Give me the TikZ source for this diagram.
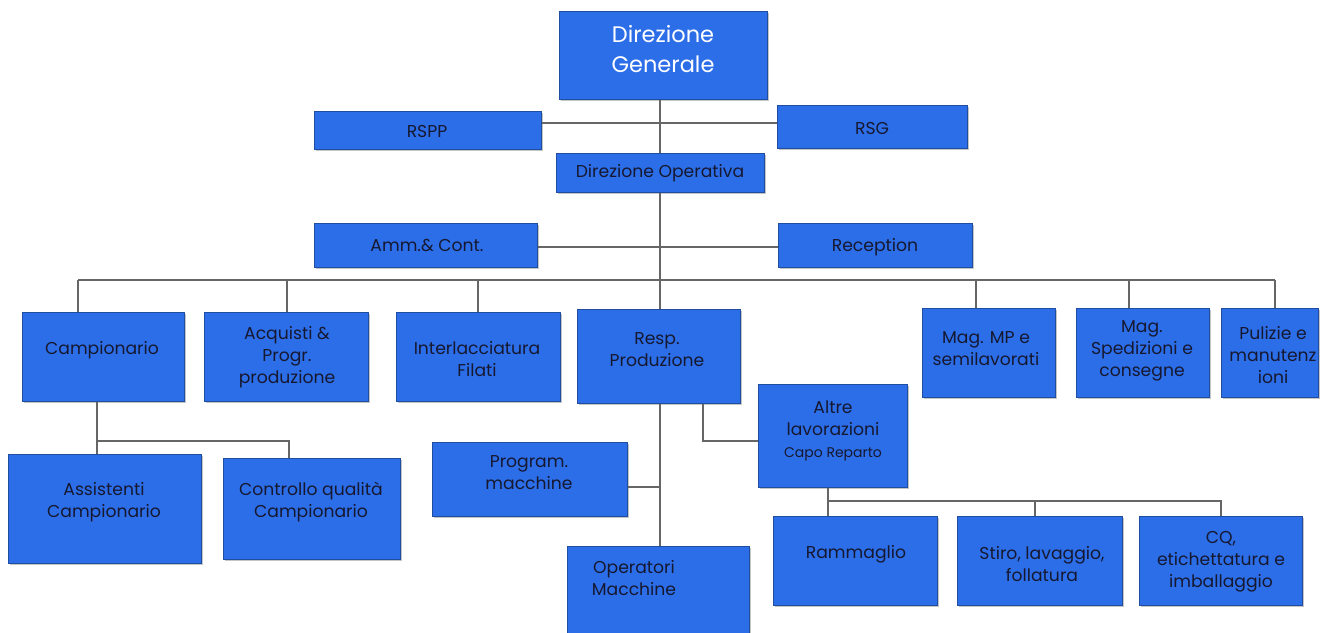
\documentclass[tikz,border=0pt]{standalone}
\usepackage{fontspec}
\setmainfont{Poppins}
\usetikzlibrary{shadows}
\definecolor{boxblue}{RGB}{44,110,232}
\definecolor{inkdark}{RGB}{22,24,48}
\tikzset{
  box/.style={draw=boxblue!70!black, line width=0.7pt, fill=boxblue, inner sep=0pt,
    drop shadow={shadow xshift=1.2pt, shadow yshift=-1.6pt, opacity=0.45}},
  txt/.style={align=center, font=\fontsize{17.2}{22}\selectfont, text=inkdark, inner sep=0pt},
  link/.style={draw=black!60, line width=1.1pt},
}
\newcommand\bx[5]{\node[box, anchor=north west, minimum width={(#4-#2)*1pt}, minimum height={(#5-#3)*1pt}] (#1) at (#2,#3) {};}
\begin{document}
\begin{tikzpicture}[x=1pt,y=-1pt]
\useasboundingbox (0,0) rectangle (1320,632);
\clip (0,0) rectangle (1320,632);
\fill[white] (0,0) rectangle (1320,632);
% boxes
\bx{dg}{559}{11}{767}{99}
\bx{rspp}{314}{111}{541}{149}
\bx{rsg}{777}{105}{967}{148}
\bx{do}{556}{153}{764}{192}
\bx{amm}{314}{223}{537}{267}
\bx{rec}{778}{223}{972}{267}
\bx{camp}{22}{312}{184}{401}
\bx{acq}{204}{312}{368}{401}
\bx{int}{396}{312}{560}{401}
\bx{resp}{577}{309}{740}{403}
\bx{magmp}{922}{308}{1055}{397}
\bx{magsp}{1076}{308}{1209}{397}
\bx{pul}{1221}{308}{1318}{397}
\bx{altre}{758}{384}{907}{487}
\bx{ass}{8}{454}{201}{563}
\bx{cq}{223}{458}{400}{559}
\bx{prog}{432}{442}{627}{516}
\bx{oper}{567}{546}{749}{645}
\bx{ramm}{773}{516}{937}{605}
\bx{stiro}{957}{516}{1122}{605}
\bx{cqe}{1139}{516}{1302}{605}
% texts
\node[txt, font=\fontsize{22.5}{30}\selectfont, text=white] (tdg) at (663,49) {Direzione\\Generale};
\node[txt] (trspp) at (427,131) {RSPP};
\node[txt] (trsg) at (872,128) {RSG};
\node[txt] (tdo) at (660,173) {Direzione Operativa};
\node[txt] (tamm) at (427,245) {Amm.\& Cont.};
\node[txt] (trec) at (875,247) {Reception};
\node[txt] (tcamp) at (102,350) {Campionario};
\node[txt] (tacq) at (287,357) {Acquisti \&\\Progr.\\produzione};
\node[txt] (tint) at (477,359) {Interlacciatura\\Filati};
\node[txt] (tresp) at (657,350) {Resp.\\Produzione};
\node[txt] (tmagmp) at (986,349) {Mag. MP e\\semilavorati};
\node[txt] (tmagsp) at (1142,351) {Mag.\\Spedizioni e\\consegne};
\node[txt] (tpul) at (1273,355) {Pulizie e\\manutenz\\ioni};
\node[txt] (taltre) at (833,431) {Altre\\lavorazioni\\{\fontsize{14}{18}\selectfont Capo Reparto}};
\node[txt] (tass) at (104,502) {Assistenti\\Campionario};
\node[txt] (tcq) at (311,502) {Controllo qualità\\Campionario};
\node[txt] (tprog) at (529,473) {Program.\\macchine};
\node[txt] (toper) at (634,578) {Operatori\\Macchine};
\node[txt] (tramm) at (856,554) {Rammaglio};
\node[txt] (tstiro) at (1042,564) {Stiro, lavaggio,\\follatura};
\node[txt] (tcqe) at (1221,562) {CQ,\\etichettatura e\\imballaggio};
% connectors
\coordinate (busL) at (78,280);
\coordinate (busR) at (1275,280);
\coordinate (busC) at (660,280);
\draw[link] (dg.south -| busC) -- (do.north -| busC);
\draw[link] (rspp.east |- 0,123) -- (rsg.west |- 0,123);
\draw[link] (do.south -| busC) -- (busC);
\draw[link] (amm.east |- 0,247) -- (rec.west |- 0,247);
\draw[link] (busL) -- (busR);
\draw[link] (busL) -- (camp.north -| busL);
\draw[link] (287,280) -- (acq.north -| 287,0);
\draw[link] (478,280) -- (int.north -| 478,0);
\draw[link] (busC) -- (resp.north -| busC);
\draw[link] (976,280) -- (magmp.north -| 976,0);
\draw[link] (1129,280) -- (magsp.north -| 1129,0);
\draw[link] (busR) -- (pul.north -| busR);
% Campionario children
\coordinate (cj) at (97,441);
\draw[link] (camp.south -| cj) -- (cj) -- (ass.north -| cj);
\draw[link] (cj) -- (289,441) -- (cq.north -| 289,0);
% Resp produzione
\coordinate (rj) at (660,487);
\draw[link] (resp.south -| rj) -- (rj) -- (oper.north -| rj);
\draw[link] (prog.east |- rj) -- (rj);
\coordinate (aj) at (703,441);
\draw[link] (resp.south -| aj) -- (aj) -- (altre.west |- aj);
% Altre children
\coordinate (lj) at (828,501);
\draw[link] (altre.south -| lj) -- (lj) -- (ramm.north -| lj);
\draw[link] (lj) -- (1221,501) -- (cqe.north -| 1221,0);
\draw[link] (1035,501) -- (stiro.north -| 1035,0);
\end{tikzpicture}
\end{document}
